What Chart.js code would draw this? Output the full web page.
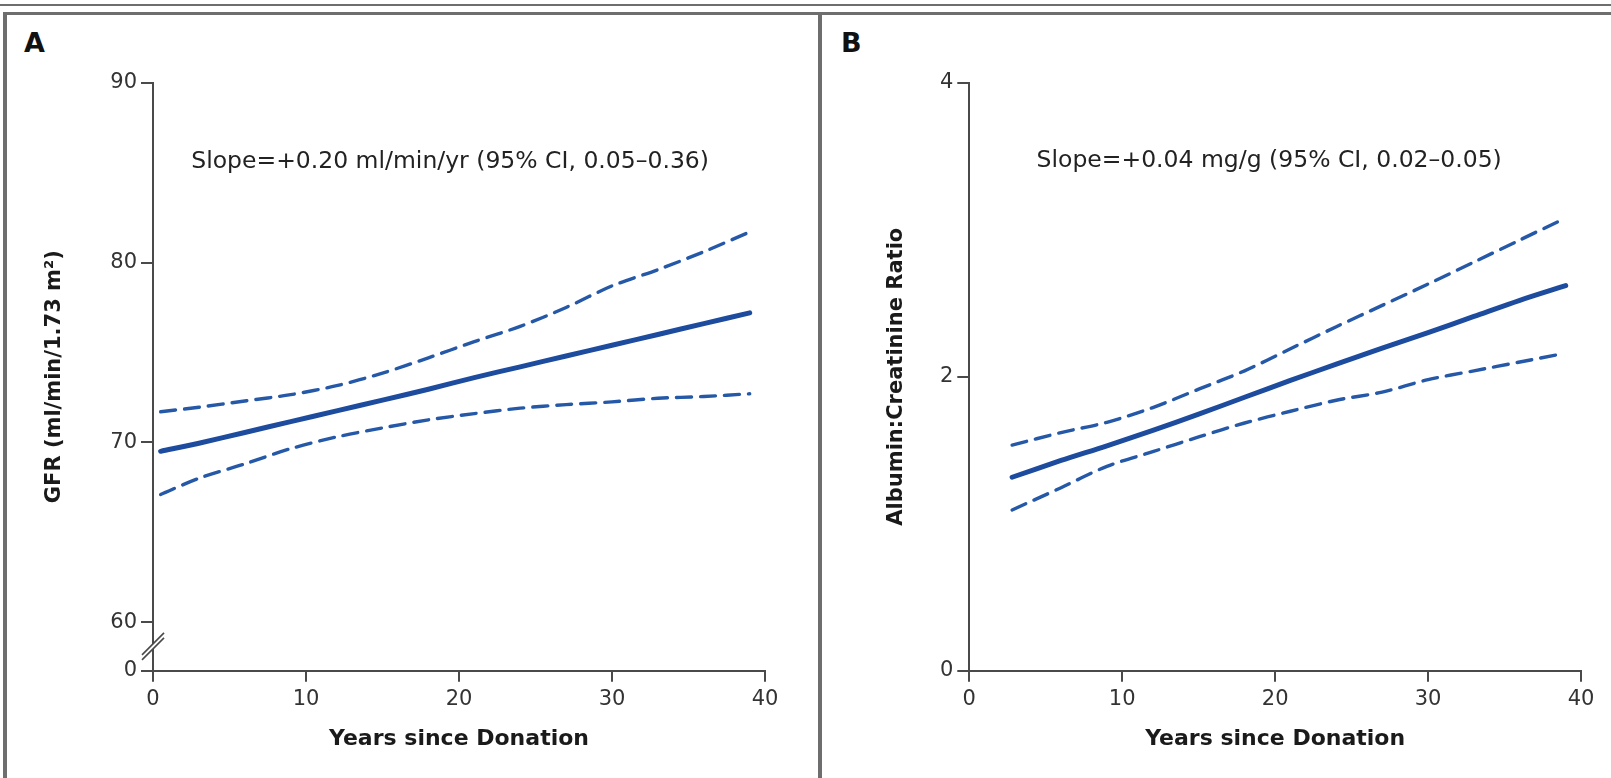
<!DOCTYPE html>
<html>
<head>
<meta charset="utf-8">
<script src="https://cdn.jsdelivr.net/npm/chart.js@4.4.1/dist/chart.umd.min.js"></script>
<style>
  html, body { margin: 0; padding: 0; background: #fff; }
  body { width: 1611px; height: 778px; position: relative; overflow: hidden; font-family: "DejaVu Sans", sans-serif; }
  .rule { position: absolute; background: #6e6e6e; }
  .letter { position: absolute; font-weight: bold; font-size: 27px; line-height: 1; color: #111; }
  .box { position: absolute; top: 20px; height: 758px; }
</style>
</head>
<body>
<div class="rule" style="left:0;top:4px;width:1611px;height:2px"></div>
<div class="rule" style="left:3px;top:12px;width:1608px;height:3px"></div>
<div class="rule" style="left:3px;top:12px;width:4px;height:766px"></div>
<div class="rule" style="left:818px;top:12px;width:4px;height:766px"></div>
<div class="letter" style="left:24px;top:29px">A</div>
<div class="letter" style="left:841px;top:29px">B</div>
<div class="box" style="left:0;width:800px"><canvas id="chartA"></canvas></div>
<div class="box" style="left:810px;width:801px"><canvas id="chartB"></canvas></div>

<script>
// Panel A: GFR
const yearsA = [0.5, 3, 6, 9, 12, 15, 18, 21, 24, 27, 30, 33, 36, 39];
const gfrFit = [69.5, 69.95, 70.55, 71.15, 71.75, 72.35, 72.95, 73.6, 74.2, 74.8, 75.4, 76.0, 76.6, 77.2];
const gfrUpper = [71.7, 71.95, 72.3, 72.65, 73.15, 73.85, 74.7, 75.6, 76.45, 77.5, 78.7, 79.6, 80.6, 81.7];
const gfrLower = [67.1, 68.0, 68.8, 69.65, 70.3, 70.8, 71.25, 71.6, 71.9, 72.1, 72.25, 72.45, 72.55, 72.7];
const gfrTicks = [60, 70, 80, 90];
const gfrFloor = 57.3; // axis break: shown as "0"

// Panel B: albumin:creatinine
const yearsB = [2.8, 6, 9, 12, 15, 18, 21, 24, 27, 30, 33, 36, 39];
const acrFit = [1.316, 1.43, 1.53, 1.635, 1.745, 1.86, 1.975, 2.085, 2.195, 2.30, 2.41, 2.52, 2.62];
const yearsBand = [2.8, 6, 9, 12, 15, 18, 21, 24, 27, 30, 33, 36, 38.5];
const acrUpper = [1.535, 1.62, 1.69, 1.79, 1.915, 2.04, 2.19, 2.34, 2.485, 2.63, 2.78, 2.93, 3.055];
const acrLower = [1.093, 1.245, 1.39, 1.49, 1.59, 1.685, 1.765, 1.84, 1.895, 1.98, 2.04, 2.10, 2.15];
const acrTicks = [0, 2, 4];

const xTicks = [0, 10, 20, 30, 40];

const solidColor = '#1d4c9e';
const dashColor = '#2559a8';
const axisColor = '#4a4a4a';
const FONT = '"DejaVu Sans", sans-serif';

const pts = (xs, ys) => xs.map((x, i) => ({x: x, y: ys[i]}));

// slope annotation
const slopeNote = {
    id: 'slopeNote',
    afterDatasetsDraw(chart, args, opts) {
        const {ctx, scales: {x, y}} = chart;
        ctx.save();
        ctx.font = '23.5px ' + FONT;
        ctx.fillStyle = '#222';
        ctx.textBaseline = 'middle';
        ctx.fillText(opts.text, x.getPixelForValue(opts.x), y.getPixelForValue(opts.y));
        ctx.restore();
    }
};

// the // mark on the y axis
const axisBreak = {
    id: 'axisBreak',
    afterDraw(chart, args, opts) {
        if (opts.at == null) return;
        const {ctx, scales: {y}} = chart;
        const cx = y.right, cy = y.getPixelForValue(opts.at);
        ctx.save();
        ctx.fillStyle = '#fff';
        ctx.beginPath();
        ctx.moveTo(cx - 11, cy + 8.5);
        ctx.lineTo(cx + 11, cy - 13.5);
        ctx.lineTo(cx + 11, cy - 8.5);
        ctx.lineTo(cx - 11, cy + 13.5);
        ctx.closePath();
        ctx.fill();
        ctx.strokeStyle = axisColor;
        ctx.lineWidth = 1.6;
        [-2.5, 2.5].forEach(d => {
            ctx.beginPath();
            ctx.moveTo(cx - 11, cy + 11 + d);
            ctx.lineTo(cx + 11, cy - 11 + d);
            ctx.stroke();
        });
        ctx.restore();
    }
};

function makePanel(id, p) {
    const lineSet = (label, data, dashed) => ({
        label: label,
        data: data,
        borderColor: dashed ? dashColor : solidColor,
        borderWidth: dashed ? 3.4 : 5,
        borderDash: dashed ? [15, 9] : [],
        borderCapStyle: 'round',
        pointRadius: 0,
        tension: 0.3,
        fill: false
    });
    return new Chart(document.getElementById(id), {
        type: 'line',
        data: {
            datasets: [
                lineSet('upper', p.upper, true),
                lineSet('lower', p.lower, true),
                lineSet('fit', p.fit, false)
            ]
        },
        plugins: [slopeNote, axisBreak],
        options: {
            responsive: true,
            maintainAspectRatio: false,
            animation: false,
            events: [],
            layout: { padding: { left: 0, right: p.padRight, top: 62.7, bottom: 0 } },
            plugins: {
                legend: { display: false },
                tooltip: { enabled: false },
                slopeNote: p.note,
                axisBreak: { at: p.breakAt }
            },
            scales: {
                x: {
                    type: 'linear',
                    min: 0, max: 40,
                    afterBuildTicks: s => { s.ticks = xTicks.map(v => ({value: v})); },
                    afterFit: s => { s.height = 107.3; },
                    border: { display: true, color: axisColor, width: 2 },
                    grid: { drawOnChartArea: false, drawTicks: true, tickLength: 11, color: axisColor, lineWidth: 2 },
                    ticks: { color: '#333', padding: 5, font: { family: FONT, size: 21 } },
                    title: {
                        display: true, text: 'Years since Donation', color: '#1a1a1a',
                        font: { family: FONT, size: 22, weight: 'bold' },
                        padding: { top: 0, bottom: 25.8 }
                    }
                },
                y: {
                    type: 'linear',
                    min: p.yMin, max: p.yMax,
                    afterBuildTicks: s => { s.ticks = p.yTicks.map(v => ({value: v})); },
                    afterFit: s => { s.width = p.yWidth; },
                    border: { display: true, color: axisColor, width: 2 },
                    grid: { drawOnChartArea: false, drawTicks: true, tickLength: 12, color: axisColor, lineWidth: 2 },
                    ticks: {
                        color: '#333', padding: 4, font: { family: FONT, size: 21 },
                        callback: v => (v === p.breakAt0 ? '0' : v)
                    },
                    title: {
                        display: true, text: p.yTitle, color: '#1a1a1a',
                        font: { family: FONT, size: 21, weight: '600' },
                        padding: { top: p.yTitlePad, bottom: 0 }
                    }
                }
            }
        }
    });
}

makePanel('chartA', {
    fit: pts(yearsA, gfrFit),
    upper: pts(yearsA, gfrUpper),
    lower: pts(yearsA, gfrLower),
    yMin: gfrFloor, yMax: 90,
    yTicks: [gfrFloor].concat(gfrTicks),
    breakAt0: gfrFloor,
    breakAt: (gfrFloor + 60) / 2,
    yWidth: 153, padRight: 35,
    yTitle: 'GFR (ml/min/1.73 m²)', yTitlePad: 42.4,
    note: { text: 'Slope=+0.20 ml/min/yr (95% CI, 0.05–0.36)', x: 2.5, y: 85.6 }
});

makePanel('chartB', {
    fit: pts(yearsB, acrFit),
    upper: pts(yearsBand, acrUpper),
    lower: pts(yearsBand, acrLower),
    yMin: 0, yMax: 4,
    yTicks: acrTicks,
    breakAt0: null,
    breakAt: null,
    yWidth: 159.3, padRight: 30,
    yTitle: 'Albumin:Creatinine Ratio', yTitlePad: 74.4,
    note: { text: 'Slope=+0.04 mg/g (95% CI, 0.02–0.05)', x: 4.4, y: 3.467 }
});
</script>
</body>
</html>
